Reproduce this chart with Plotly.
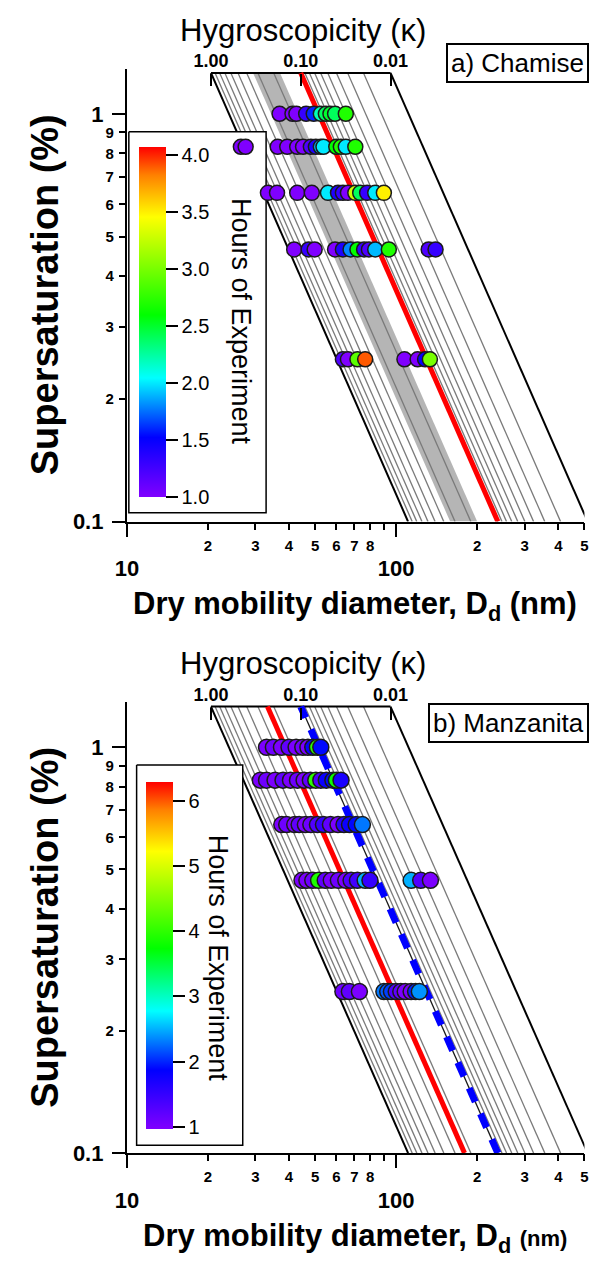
import numpy as np
import plotly.graph_objects as go

W, H = 605, 1273
FONT = "Liberation Sans, Arial, sans-serif"

# ---------------- data ----------------
KAPPA_GRID = [0.9, 0.8, 0.7, 0.6, 0.5, 0.4, 0.3, 0.2, 0.1,
              0.09, 0.08, 0.07, 0.06, 0.05, 0.04, 0.03, 0.02]
KAPPA_EDGE = [1.0, 0.01]
KAPPA_TICKS = [1.0, 0.1, 0.01]
KAPPA_TICKTEXT = ["1.00", "0.10", "0.01"]

X_MAJOR = [10, 100]
X_MAJOR_TEXT = ["10", "100"]
X_MINOR = [20, 30, 40, 50, 60, 70, 80, 200, 300, 400, 500]
X_MINOR_TEXT = ["2", "3", "4", "5", "6", "7", "8", "2", "3", "4", "5"]
X_UNLABELED = [90]
Y_MAJOR = [0.1, 1]
Y_MAJOR_TEXT = ["0.1", "1"]
Y_MINOR = [0.2, 0.3, 0.4, 0.5, 0.6, 0.7, 0.8, 0.9]
Y_MINOR_TEXT = ["2", "3", "4", "5", "6", "7", "8", "9"]

# (a) Chamise: supersaturation levels (%), dry diameters (nm), hours
cham_ss = [1.0, 0.83, 0.64, 0.465, 0.25]
cham_d_1 = [36.9, 41.2, 42.6, 46.3, 49.4, 52.5, 54.8, 57.0, 59.3, 65.0]
cham_h_1 = [1.0, 1.0, 1.0, 1.3, 1.6, 2.2, 2.4, 2.5, 2.4, 2.7]
cham_d_2 = [26.5, 27.6, 36.3, 39.4, 42.9, 45.1, 48.2, 50.3, 52.5, 53.7, 59.9, 62.3, 65.0, 70.5]
cham_h_2 = [1.0, 1.0, 1.0, 1.0, 1.0, 1.0, 1.2, 1.4, 1.9, 2.0, 2.6, 2.7, 2.0, 2.7]
cham_d_3 = [33.4, 36.1, 42.9, 48.6, 55.8, 60.8, 63.4, 66.2, 70.5, 73.5, 78.0, 83.6, 90.0]
cham_h_3 = [1.0, 1.0, 1.0, 1.0, 2.0, 1.4, 1.3, 1.0, 3.3, 2.4, 1.3, 2.0, 3.5]
cham_d_4 = [41.8, 47.3, 49.8, 59.3, 63.4, 67.7, 71.8, 76.0, 79.2, 83.6, 93.9, 132.0, 140.0]
cham_h_4 = [1.0, 1.3, 1.0, 1.0, 1.4, 1.8, 2.6, 1.3, 1.2, 1.9, 2.7, 1.2, 1.3]
cham_d_5 = [63.4, 66.2, 71.8, 76.7, 107.3, 120.1, 128.0, 133.4]
cham_h_5 = [1.2, 1.0, 2.9, 3.9, 1.0, 1.0, 1.5, 3.0]
cham_kappa_fit = 0.10
cham_kappa_band = [0.34, 0.17]
cham_hours_ticks = [1.0, 1.5, 2.0, 2.5, 3.0, 3.5, 4.0]
cham_hours_range = [1.0, 4.07]

# (b) Manzanita
manz_ss = [1.0, 0.83, 0.645, 0.47, 0.25]
manz_d_1 = [33.0, 35.0, 37.5, 40.0, 42.5, 45.0, 47.0, 49.0, 51.0, 52.5]
manz_h_1 = [1.0, 1.1, 1.0, 1.2, 1.0, 1.1, 1.0, 1.8, 4.0, 1.9]
manz_d_2 = [31.3, 33.0, 35.5, 38.0, 40.5, 43.0, 45.5, 48.0, 50.3, 52.5, 55.0, 58.2, 60.0, 62.4]
manz_h_2 = [1.0, 1.1, 1.0, 1.2, 1.0, 1.1, 1.0, 1.2, 4.0, 1.3, 1.8, 1.9, 3.8, 1.7]
manz_d_3 = [37.6, 39.2, 42.0, 43.6, 46.0, 48.2, 51.0, 53.7, 57.0, 60.8, 64.0, 67.1, 71.0, 74.9]
manz_h_3 = [1.0, 1.1, 1.0, 1.2, 1.0, 1.1, 1.3, 1.5, 1.2, 1.0, 1.6, 1.8, 1.9, 2.3]
manz_d_4 = [44.7, 46.6, 49.0, 51.5, 54.5, 57.4, 61.0, 65.0, 68.0, 71.8, 76.7, 79.9, 113.6, 123.3, 134.0]
manz_h_4 = [1.0, 1.0, 1.1, 3.9, 1.2, 1.0, 1.1, 1.0, 1.3, 1.4, 2.5, 1.5, 2.5, 1.3, 1.0]
manz_d_5 = [63.4, 67.0, 73.0, 90.0, 93.0, 96.0, 100.0, 104.0, 108.0, 113.6, 118.0, 121.9]
manz_h_5 = [1.1, 1.2, 1.0, 2.3, 2.2, 2.1, 1.3, 1.2, 1.0, 1.0, 2.0, 2.4]
manz_kappa_fit = 0.235
manz_kappa_ref = 0.10
manz_hours_ticks = [1, 2, 3, 4, 5, 6]
manz_hours_range = [0.97, 6.3]

RAINBOW = [[0.0, "#8000ff"], [0.17, "#0000ff"], [0.34, "#00ffff"],
           [0.52, "#00ff00"], [0.80, "#ffff00"], [0.92, "#ff8000"], [1.0, "#ff0000"]]

# ---------------- geometry ----------------
S_TOP = 1.26
XR = [1.0, np.log10(500)]
YR = [-1.0, np.log10(1.29)]
X_PX = (118, 588)
PANELS = [dict(bottom=527, decade=412), dict(bottom=1165, decade=410)]


def dcrit(kappa, s_pct):
    A = 4 * 0.072 * 0.018 / (8.314 * 298.15 * 1000.0)
    lns = np.log(1 + np.asarray(s_pct) / 100.0)
    return (4 * A ** 3 / (27 * kappa * lns ** 2)) ** (1 / 3) * 1e9


def ydom(p):
    top = p["bottom"] - p["decade"] * (YR[1] - YR[0])
    return [1 - p["bottom"] / H, 1 - top / H]


def py_of_s(s, p):
    return p["bottom"] - p["decade"] * (np.log10(s) - YR[0])


def px_to_d(px):
    return 10 ** (XR[0] + (px - X_PX[0]) / (X_PX[1] - X_PX[0]) * (XR[1] - XR[0]))


def py_to_s(py, p):
    return 10 ** (YR[0] + (p["bottom"] - py) / p["decade"])


S_LINE = np.logspace(-1, np.log10(S_TOP), 30)

fig = go.Figure()


def add_kappa_lines(xa, ya, band=None, fit=None, ref=None):
    if band is not None:
        d1 = dcrit(band[0], S_LINE)
        d2 = dcrit(band[1], S_LINE)
        fig.add_trace(go.Scatter(x=np.concatenate([d1, d2[::-1]]),
                                 y=np.concatenate([S_LINE, S_LINE[::-1]]),
                                 fill="toself", fillcolor="#b5b5b5", mode="lines",
                                 line=dict(width=0), xaxis=xa, yaxis=ya,
                                 showlegend=False, hoverinfo="skip"))
    for k in KAPPA_GRID:
        col = "#1a1a1a" if (ref is not None and abs(k - ref) < 1e-9) else "#7a7a7a"
        fig.add_trace(go.Scatter(x=dcrit(k, S_LINE), y=S_LINE, mode="lines",
                                 line=dict(color=col, width=1.3), xaxis=xa, yaxis=ya,
                                 showlegend=False, hoverinfo="skip"))
    for k in KAPPA_EDGE:
        fig.add_trace(go.Scatter(x=dcrit(k, S_LINE), y=S_LINE, mode="lines",
                                 line=dict(color="black", width=2), xaxis=xa, yaxis=ya,
                                 showlegend=False, hoverinfo="skip"))
    fig.add_trace(go.Scatter(x=[dcrit(KAPPA_EDGE[0], S_TOP), dcrit(KAPPA_EDGE[1], S_TOP)],
                             y=[S_TOP, S_TOP], mode="lines",
                             line=dict(color="black", width=2), xaxis=xa, yaxis=ya,
                             showlegend=False, hoverinfo="skip"))
    if fit is not None:
        fig.add_trace(go.Scatter(x=dcrit(fit, S_LINE), y=S_LINE, mode="lines",
                                 line=dict(color="#ff0000", width=5), xaxis=xa, yaxis=ya,
                                 showlegend=False, hoverinfo="skip"))
    if ref is not None:
        fig.add_trace(go.Scatter(x=dcrit(ref, S_LINE), y=S_LINE, mode="lines",
                                 line=dict(color="#0000ff", width=7, dash="15px,13px"),
                                 xaxis=xa, yaxis=ya, showlegend=False, hoverinfo="skip"))


def add_frame(xa, ya, p, box_px):
    x0, x1, y0, y1 = box_px
    xs = [px_to_d(v) for v in (x0, x1, x1, x0, x0)]
    ys = [py_to_s(v, p) for v in (y0, y0, y1, y1, y0)]
    fig.add_trace(go.Scatter(x=xs, y=ys, fill="toself", fillcolor="white", mode="lines",
                             line=dict(color="black", width=1.5), xaxis=xa, yaxis=ya,
                             showlegend=False, hoverinfo="skip"))


def add_points(xa, ya, ca, ss, ds, hs, size):
    for s, d, h in zip(ss, ds, hs):
        fig.add_trace(go.Scatter(x=d, y=[s] * len(d), mode="markers",
                                 marker=dict(size=size, color=h, coloraxis=ca,
                                             line=dict(color="#1a1a1a", width=1.5)),
                                 xaxis=xa, yaxis=ya, showlegend=False))


def add_axis_anchor(xa, ya, x, y):
    # invisible point so that plotly draws the overlay axis
    fig.add_trace(go.Scatter(x=[x], y=[y], mode="markers", marker=dict(opacity=0),
                             xaxis=xa, yaxis=ya, showlegend=False, hoverinfo="skip"))


# panel a
add_kappa_lines("x", "y", band=cham_kappa_band, fit=cham_kappa_fit)
add_frame("x", "y", PANELS[0], (120, 261, 133, 518))
add_points("x", "y", "coloraxis", cham_ss,
           [cham_d_1, cham_d_2, cham_d_3, cham_d_4, cham_d_5],
           [cham_h_1, cham_h_2, cham_h_3, cham_h_4, cham_h_5], 15)
# panel b
add_kappa_lines("x2", "y2", fit=manz_kappa_fit, ref=manz_kappa_ref)
add_frame("x2", "y2", PANELS[1], (128, 237, 773, 1157))
add_points("x2", "y2", "coloraxis2", manz_ss,
           [manz_d_1, manz_d_2, manz_d_3, manz_d_4, manz_d_5],
           [manz_h_1, manz_h_2, manz_h_3, manz_h_4, manz_h_5], 16)

xdom = [X_PX[0] / W, X_PX[1] / W]
AX = dict(type="log", showgrid=False, zeroline=False, ticks="outside",
          tickcolor="black", tickwidth=2)
layout = dict(width=W, height=H, margin=dict(l=0, r=0, t=0, b=0),
              plot_bgcolor="white", paper_bgcolor="white",
              font=dict(family=FONT, color="black"), showlegend=False)


def ann(text, xpx, ypx, size, bold=False, angle=0, **kw):
    f = dict(size=size, family=FONT)
    if bold:
        f["weight"] = "bold"
    d = dict(text=text, xref="paper", yref="paper", x=xpx / W, y=1 - ypx / H,
             xanchor="center", yanchor="middle", showarrow=False, textangle=angle,
             font=f)
    d.update(kw)
    return d


annotations = []
for i, p in enumerate(PANELS):
    n = "" if i == 0 else str(i + 1)
    xa, ya = "x" + n, "y" + n
    xo, yo, xk = "x" + str(i + 3), "y" + str(i + 3), "x" + str(i + 5)
    dom = ydom(p)
    layout["xaxis" + n] = dict(AX, domain=xdom, range=XR, anchor=ya, showline=True,
                               linecolor="black", linewidth=2, tickvals=X_MAJOR,
                               ticktext=X_MAJOR_TEXT, ticklen=13,
                               tickfont=dict(size=22, family=FONT, weight="bold"),
                               ticklabelstandoff=13)
    layout["xaxis" + str(i + 3)] = dict(AX, overlaying=xa, range=XR, anchor=ya,
                                        side="bottom", showline=False, tickvals=X_MINOR,
                                        ticktext=X_MINOR_TEXT, ticklen=7,
                                        tickfont=dict(size=15, family=FONT, weight="bold"),
                                        ticklabelstandoff=3,
                                        minor=dict(tickvals=X_UNLABELED, ticks="outside",
                                                   ticklen=7, tickwidth=2,
                                                   tickcolor="black", showgrid=False))
    layout["yaxis" + n] = dict(AX, domain=dom, range=YR, anchor=xa, showline=True,
                               linecolor="black", linewidth=2, tickvals=Y_MAJOR,
                               ticktext=Y_MAJOR_TEXT, ticklen=13,
                               tickfont=dict(size=22, family=FONT, weight="bold"),
                               ticklabelstandoff=4)
    layout["yaxis" + str(i + 3)] = dict(AX, overlaying=ya, range=YR, anchor=xa,
                                        side="left", showline=False, tickvals=Y_MINOR,
                                        ticktext=Y_MINOR_TEXT, ticklen=7,
                                        tickfont=dict(size=15, family=FONT, weight="bold"),
                                        ticklabelstandoff=2)
    ld1 = np.log10(dcrit(1.0, S_TOP))
    krange = [3 * (ld1 - XR[0]), 3 * (ld1 - XR[1])]
    top_px = py_of_s(S_TOP, p)
    layout["xaxis" + str(i + 5)] = dict(AX, overlaying=xa, range=krange, anchor="free",
                                        position=1 - top_px / H, side="top",
                                        showline=False, ticks="inside", ticklen=12,
                                        tickvals=KAPPA_TICKS, ticktext=KAPPA_TICKTEXT,
                                        tickfont=dict(size=18, family=FONT, weight="bold"),
                                        ticklabelstandoff=2)
    add_axis_anchor(xo, ya, 50, 0.5)
    add_axis_anchor(xa, yo, 50, 0.5)
    add_axis_anchor(xk, ya, 0.1, 0.5)
    annotations.append(ann("Hygroscopicity (\u03ba)", 299, top_px - 43, 31))
    annotations.append(ann("Supersaturation (%)", 34, (1 - sum(dom) / 2) * H, 38,
                           bold=True, angle=-90))

annotations.append(ann("Dry mobility diameter, D<sub>d</sub> (nm)", 352, 612, 31, bold=True))
annotations.append(ann("Dry mobility diameter, D<sub>d</sub> "
                       "<span style='font-size:22px'>(nm)</span>", 352, 1251, 31, bold=True))
annotations.append(ann("a) Chamise", 593, 64, 26, xanchor="right", bgcolor="white",
                       bordercolor="black", borderwidth=2, borderpad=3))
annotations.append(ann("b) Manzanita", 593, 730, 26, xanchor="right", bgcolor="white",
                       bordercolor="black", borderwidth=2, borderpad=3))
annotations.append(ann("Hours of Experiment", 236, 325, 27, angle=90))
annotations.append(ann("Hours of Experiment", 211, 968, 27, angle=90))
layout["annotations"] = annotations

CB = dict(thickness=27, thicknessmode="pixels", lenmode="pixels", xanchor="left",
          yanchor="middle", xpad=0, ypad=0, ticks="outside", ticklen=12, tickwidth=2,
          tickcolor="black", outlinewidth=0, tickfont=dict(size=20, family=FONT))
layout["coloraxis"] = dict(colorscale=RAINBOW, cmin=cham_hours_range[0],
                           cmax=cham_hours_range[1],
                           colorbar=dict(CB, x=130 / W, y=1 - 325 / H, len=350,
                                         tickvals=cham_hours_ticks,
                                         ticktext=["%.1f" % v for v in cham_hours_ticks]))
layout["coloraxis2"] = dict(colorscale=RAINBOW, cmin=manz_hours_range[0],
                            cmax=manz_hours_range[1],
                            colorbar=dict(CB, x=138 / W, y=1 - 965 / H, len=347,
                                          tickvals=manz_hours_ticks,
                                          ticktext=[str(v) for v in manz_hours_ticks]))
fig.update_layout(layout)
fig.write_html("out.html")
